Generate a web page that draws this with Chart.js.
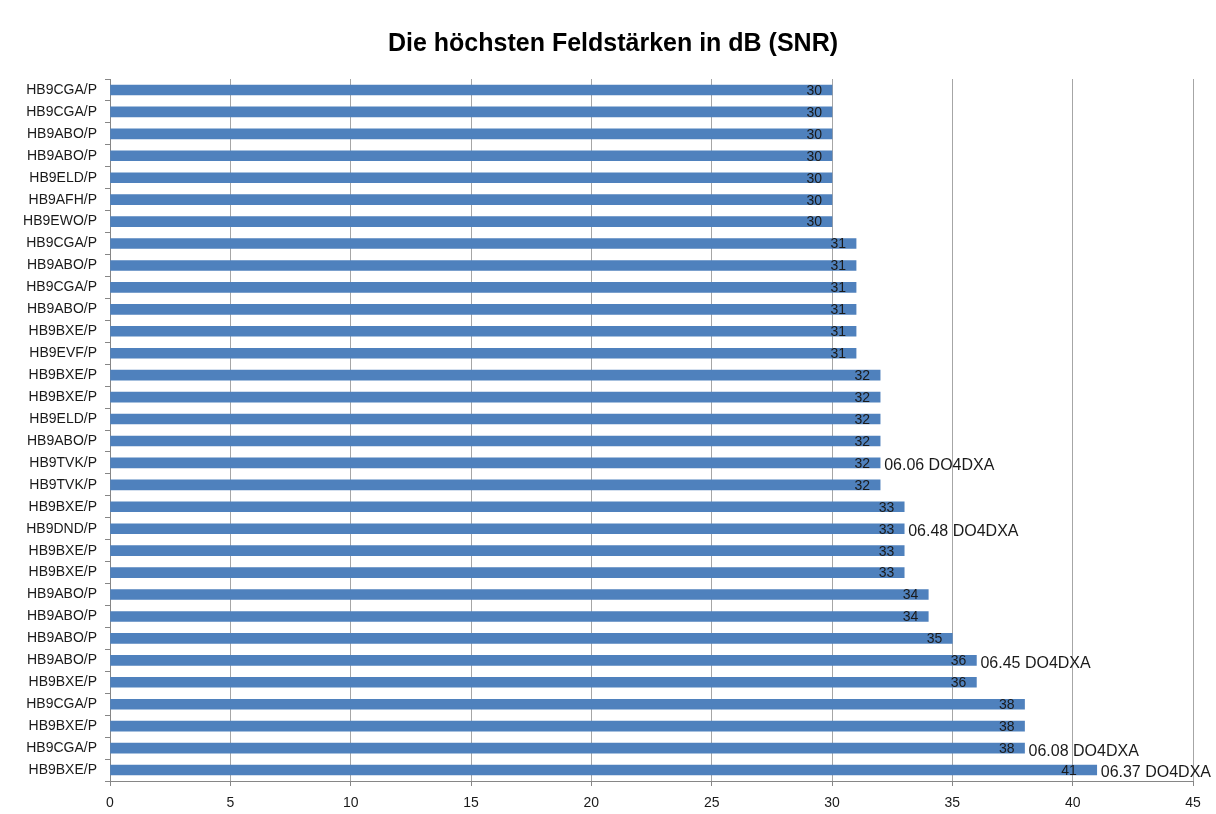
<!DOCTYPE html>
<html>
<head>
<meta charset="utf-8">
<script src="https://cdn.jsdelivr.net/npm/chart.js@4/dist/chart.umd.min.js"></script>
<style>
html,body{margin:0;padding:0;background:#fff;}
#wrap{width:1216px;height:814px;}
</style>
</head>
<body>
<div id="wrap"><canvas id="c" width="1216" height="814"></canvas></div>
<script>
const categories = [
  'HB9CGA/P','HB9CGA/P','HB9ABO/P','HB9ABO/P','HB9ELD/P','HB9AFH/P','HB9EWO/P',
  'HB9CGA/P','HB9ABO/P','HB9CGA/P','HB9ABO/P','HB9BXE/P','HB9EVF/P',
  'HB9BXE/P','HB9BXE/P','HB9ELD/P','HB9ABO/P','HB9TVK/P','HB9TVK/P',
  'HB9BXE/P','HB9DND/P','HB9BXE/P','HB9BXE/P',
  'HB9ABO/P','HB9ABO/P','HB9ABO/P','HB9ABO/P','HB9BXE/P',
  'HB9CGA/P','HB9BXE/P','HB9CGA/P','HB9BXE/P'
];
const snrValues = [
  30,30,30,30,30,30,30,
  31,31,31,31,31,31,
  32,32,32,32,32,32,
  33,33,33,33,
  34,34,35,36,36,
  38,38,38,41
];
const notes = [
  '','','','','','','',
  '','','','','','',
  '','','','','06.06 DO4DXA','',
  '','06.48 DO4DXA','','',
  '','','','06.45 DO4DXA','',
  '','','06.08 DO4DXA','06.37 DO4DXA'
];
const xTicks = [0,5,10,15,20,25,30,35,40,45];
const titleText = 'Die höchsten Feldstärken in dB (SNR)';

const FONT = "'Liberation Sans', Arial, sans-serif";

const labelPlugin = {
  id: 'barLabels',
  afterLayout(chart) {
    const tb = chart.titleBlock;
    if (tb) { tb.left = 10; tb.right = 1216; }
  },
  afterDatasetsDraw(chart) {
    const ctx = chart.ctx;
    const meta = chart.getDatasetMeta(0);
    ctx.save();
    meta.data.forEach((bar, i) => {
      const xEnd = bar.x;
      const yc = bar.y;
      ctx.fillStyle = '#1a1a1a';
      ctx.font = '14px ' + FONT;
      ctx.textAlign = 'right';
      ctx.textBaseline = 'middle';
      const off = snrValues[i] >= 41 ? 20 : 10;
      ctx.fillText(String(snrValues[i]), xEnd - off, yc + 1);
      if (notes[i]) {
        ctx.font = '16px ' + FONT;
        ctx.textAlign = 'left';
        ctx.fillText(notes[i], xEnd + 4, yc + 3);
      }
    });
    ctx.restore();
  }
};

new Chart(document.getElementById('c'), {
  type: 'bar',
  data: {
    labels: categories,
    datasets: [{
      data: snrValues,
      backgroundColor: '#4F81BD',
      borderWidth: 0,
      barThickness: 10
    }]
  },
  options: {
    indexAxis: 'y',
    responsive: false,
    animation: false,
    devicePixelRatio: 1,
    layout: { padding: { left: 0, right: 23, top: 0, bottom: 0 } },
    plugins: {
      legend: { display: false },
      tooltip: { enabled: false },
      title: {
        display: true,
        text: titleText,
        color: '#000',
        font: { family: FONT, size: 25, weight: 'bold' },
        padding: { top: 29, bottom: 20 }
      }
    },
    scales: {
      x: {
        type: 'linear',
        min: 0,
        max: 45,
        afterBuildTicks(scale) { scale.ticks = xTicks.map(v => ({ value: v })); },
        afterFit(scale) { scale.height = 33; },
        ticks: {
          color: '#1a1a1a',
          font: { family: FONT, size: 14 },
          padding: 9
        },
        grid: {
          color: '#a6a6a6',
          lineWidth: 1,
          tickLength: 5,
          tickColor: '#868686'
        },
        border: { color: '#868686', width: 1 }
      },
      y: {
        type: 'category',
        offset: true,
        afterFit(scale) { scale.width = 110; },
        ticks: {
          color: '#1a1a1a',
          font: { family: FONT, size: 14 },
          padding: 8,
          autoSkip: false
        },
        grid: {
          offset: true,
          drawOnChartArea: false,
          tickLength: 5,
          color: '#868686'
        },
        border: { color: '#868686', width: 1 }
      }
    }
  },
  plugins: [labelPlugin]
});
</script>
</body>
</html>
